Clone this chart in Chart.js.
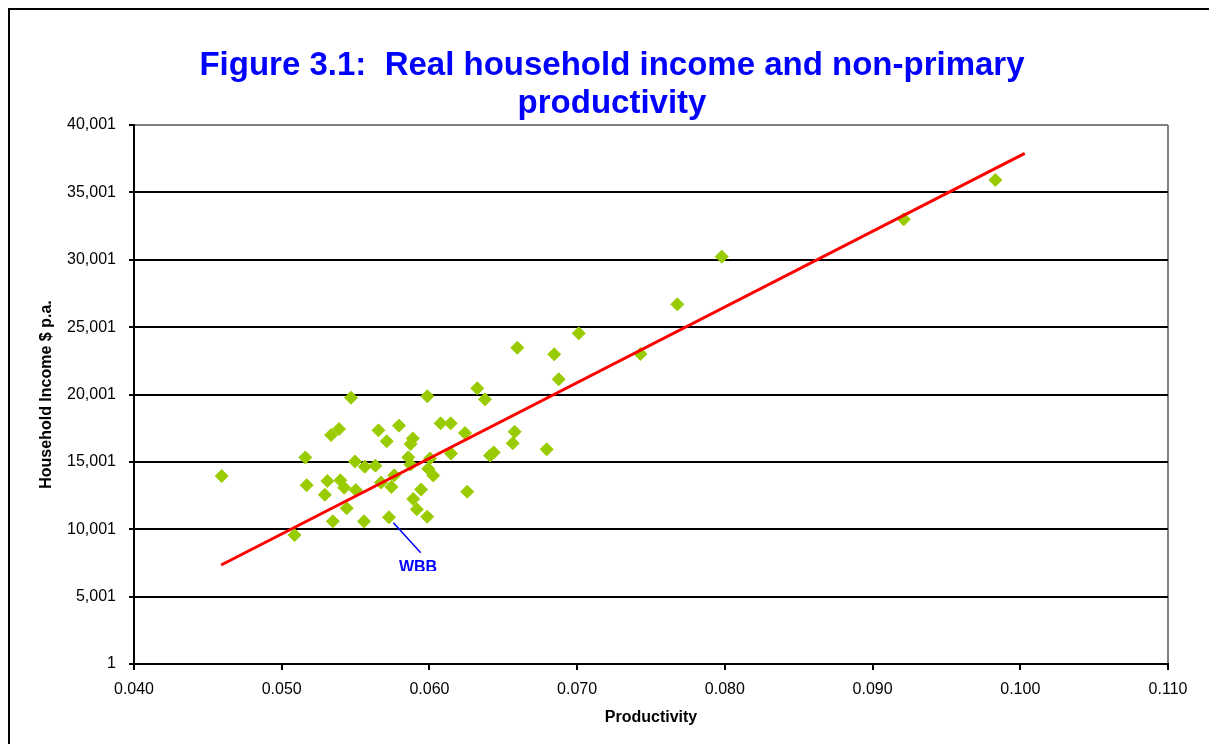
<!DOCTYPE html>
<html>
<head>
<meta charset="utf-8">
<script src="https://cdn.jsdelivr.net/npm/chart.js@4"></script>
<style>
  html, body { margin: 0; padding: 0; background: #fff; overflow: hidden; }
  #wrap { position: relative; width: 1209px; height: 744px; }
  #frame { position: absolute; left: 8px; top: 8px; width: 1400px; height: 1000px; border: 2px solid #000; pointer-events: none; }
  canvas { position: absolute; left: 0; top: 0; }
</style>
</head>
<body>
<div id="wrap">
  <canvas id="incomeChart" width="1209" height="744"></canvas>
  <div id="frame"></div>
</div>
<script>
// Figure 3.1 data
const titleLines = ['Figure 3.1:  Real household income and non-primary', 'productivity'];
const productivity = [
  0.05469, 0.05986, 0.06324, 0.06376, 0.05334, 0.05388, 0.05655, 0.05794, 0.05711, 0.06076,
  0.06144, 0.06241, 0.05887, 0.05873, 0.06577, 0.06564, 0.05160, 0.05496, 0.05562, 0.05634,
  0.05857, 0.05872, 0.06004, 0.05992, 0.06026, 0.06146, 0.06410, 0.06435, 0.04594, 0.05169,
  0.05309, 0.05397, 0.05423, 0.05292, 0.05502, 0.05672, 0.05762, 0.05742, 0.05944, 0.06256,
  0.05440, 0.05890, 0.05915, 0.05346, 0.05557, 0.05726, 0.05985, 0.05087, 0.06794, 0.06595,
  0.06845, 0.06875, 0.07011, 0.07429, 0.07678, 0.07979, 0.09211, 0.09831
];
const income = [
  19760, 19870, 20460, 19640, 16990, 17440, 17340, 17690, 16530, 17860,
  17860, 17140, 16740, 16330, 17240, 16380, 15330, 15030, 14640, 14720,
  15340, 14800, 15250, 14490, 13990, 15620, 15470, 15700, 13950, 13270,
  13580, 13630, 13080, 12560, 12910, 13470, 14000, 13140, 12950, 12790,
  11560, 12250, 11480, 10590, 10590, 10890, 10930, 9570, 15930, 23470,
  22980, 21130, 24540, 23010, 26690, 30230, 33000, 35920
];
const trendX = [0.0459, 0.1003];
const trendY = [7350, 37900];
const leaderX = [0.05756, 0.05941];
const leaderY = [10490, 8260];
const wbbLabel = { x: 0.05923, y: 6830, text: 'WBB' };
const xTicks = [0.04, 0.05, 0.06, 0.07, 0.08, 0.09, 0.10, 0.11];
const yTicks = [1, 5001, 10001, 15001, 20001, 25001, 30001, 35001, 40001];

const FONT = '"Liberation Sans", Arial, sans-serif';

const titleAndLabels = {
  id: 'titleAndLabels',
  afterDraw(chart) {
    const ctx = chart.ctx;
    ctx.save();
    ctx.fillStyle = '#0000FF';
    ctx.textAlign = 'center';
    ctx.textBaseline = 'alphabetic';
    ctx.font = 'bold 33px ' + FONT;
    ctx.fillText(titleLines[0], 612, 75);
    ctx.fillText(titleLines[1], 612, 113);

    // WBB label, cut off at the bottom like the original
    const x = chart.scales.x.getPixelForValue(wbbLabel.x);
    const y = chart.scales.y.getPixelForValue(wbbLabel.y);
    ctx.beginPath();
    ctx.rect(x - 40, y - 20, 80, 19);
    ctx.clip();
    ctx.font = 'bold 16px ' + FONT;
    ctx.fillText(wbbLabel.text, x, y);
    ctx.restore();
  }
};

new Chart(document.getElementById('incomeChart'), {
  type: 'scatter',
  data: {
    datasets: [
      {
        label: 'Trend',
        type: 'line',
        data: trendX.map((x, i) => ({ x, y: trendY[i] })),
        borderColor: '#FF0000',
        borderWidth: 3,
        pointRadius: 0,
        fill: false,
        order: 0
      },
      {
        label: 'WBB pointer',
        type: 'line',
        data: leaderX.map((x, i) => ({ x, y: leaderY[i] })),
        borderColor: '#0000FF',
        borderWidth: 1.5,
        pointRadius: 0,
        fill: false,
        order: 1
      },
      {
        label: 'Household income',
        data: productivity.map((x, i) => ({ x, y: income[i] })),
        pointStyle: 'rectRot',
        pointRadius: 6.5,
        pointBorderWidth: 1,
        backgroundColor: '#99CC00',
        borderColor: '#99CC00',
        order: 2
      }
    ]
  },
  options: {
    responsive: false,
    animation: false,
    layout: { padding: { left: 0, right: 41, top: 125, bottom: 0 } },
    plugins: {
      legend: { display: false },
      tooltip: { enabled: false }
    },
    scales: {
      x: {
        type: 'linear',
        min: 0.04,
        max: 0.11,
        afterFit: (s) => { s.height = 80; },
        afterBuildTicks: (s) => { s.ticks = xTicks.map(v => ({ value: v })); },
        border: { color: '#000', width: 2 },
        grid: {
          color: (c) => (c.tick && Math.abs(c.tick.value - 0.11) < 1e-9) ? '#808080' : 'rgba(0,0,0,0)',
          tickColor: '#000',
          lineWidth: 2,
          tickLength: 6
        },
        ticks: {
          color: '#000',
          padding: 10,
          font: { family: FONT, size: 16 },
          callback: (v) => Number(v).toFixed(3)
        },
        title: {
          display: true,
          text: 'Productivity',
          color: '#000',
          font: { family: FONT, size: 16, weight: 'bold' },
          padding: { top: 0, bottom: 17 }
        }
      },
      y: {
        type: 'linear',
        min: 1,
        max: 40001,
        afterFit: (s) => { s.width = 134; },
        afterBuildTicks: (s) => { s.ticks = yTicks.map(v => ({ value: v })); },
        border: { color: '#000', width: 2 },
        grid: {
          color: (c) => (c.tick && c.tick.value === 40001) ? '#808080' : '#000',
          tickColor: '#000',
          lineWidth: 2,
          tickLength: 5
        },
        ticks: {
          color: '#000',
          padding: 13,
          font: { family: FONT, size: 16 },
          callback: (v) => Number(v).toLocaleString('en-US')
        },
        title: {
          display: true,
          text: 'Household Income $ p.a.',
          color: '#000',
          font: { family: FONT, size: 16, weight: 'bold' },
          padding: { top: 37, bottom: 0 }
        }
      }
    }
  },
  plugins: [titleAndLabels]
});
</script>
</body>
</html>
